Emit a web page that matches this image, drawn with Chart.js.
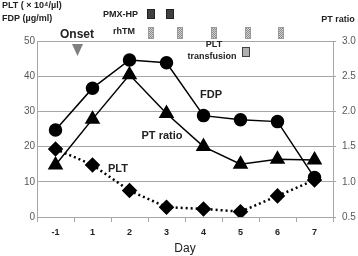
<!DOCTYPE html>
<html>
<head>
<meta charset="utf-8">
<script src="https://cdn.jsdelivr.net/npm/chart.js@4/dist/chart.umd.min.js"></script>
<style>
  html, body { margin: 0; padding: 0; background: #fff; }
  #wrap { width: 358px; height: 256px; position: relative; }
</style>
</head>
<body>
<div id="wrap"><canvas id="line-chart" width="358" height="256"></canvas></div>
<script>
var days = ['-1', '1', '2', '3', '4', '5', '6', '7'];
var fdpValues = [24.7, 36.6, 44.6, 43.8, 28.8, 27.6, 27.1, 11.2];
var pltValues = [19.3, 14.8, 7.5, 2.8, 2.3, 1.5, 6.0, 10.5];
var ptRatio = [1.24, 1.89, 2.52, 1.97, 1.50, 1.25, 1.32, 1.31];
var leftTicks = [0, 10, 20, 30, 40, 50];
var rightTicks = [0.5, 1.0, 1.5, 2.0, 2.5, 3.0];

var gridGray = '#a6a6a6';
var font = '"Liberation Sans", "DejaVu Sans", sans-serif';

// text + small boxes drawn above the plot
var notes = {
  id: 'notes',
  afterDraw: function(chart) {
    var c = chart.ctx;
    c.save();
    c.fillStyle = '#222';
    c.textBaseline = 'middle';
    c.font = 'bold 9px ' + font;
    c.textAlign = 'left';
    c.fillText('PLT ( \u00d7 10\u2074/\u00b5l)', 2, 6);
    c.fillText('FDP (\u00b5g/ml)', 2, 19);
    c.textAlign = 'right';
    c.fillText('PMX-HP', 138, 15);
    c.fillText('rhTM', 135, 32);
    c.textAlign = 'center';
    c.fillText('PT ratio', 338, 20);
    c.fillText('PLT', 214, 45);
    c.fillText('transfusion', 212, 57);

    c.font = 'bold 12px ' + font;
    c.fillText('Onset', 77, 35);
    c.font = 'bold 11px ' + font;
    c.fillText('FDP', 211, 95);
    c.fillText('PT ratio', 162, 136);
    c.fillText('PLT', 118, 169);

    // onset arrow
    c.fillStyle = '#7f7f7f';
    c.beginPath();
    c.moveTo(72, 44); c.lineTo(83, 44); c.lineTo(77.5, 56); c.closePath();
    c.fill();

    // PMX-HP boxes
    c.fillStyle = '#404040';
    c.strokeStyle = '#222';
    [147, 166].forEach(function(x) {
      c.fillRect(x, 9, 8, 10); c.strokeRect(x + 0.5, 9.5, 7, 9);
    });
    // rhTM boxes (stippled)
    [148, 177, 211, 245, 278].forEach(function(x) {
      c.fillStyle = '#d4d4d4';
      c.fillRect(x, 27, 6, 12);
      c.fillStyle = '#8a8a8a';
      for (var yy = 27; yy < 39; yy++) {
        for (var xx = x; xx < x + 6; xx++) {
          if ((xx + yy) % 2 === 0) c.fillRect(xx, yy, 1, 1);
        }
      }
      c.strokeStyle = '#9a9a9a';
      c.strokeRect(x + 0.5, 27.5, 5, 11);
    });
    // PLT transfusion box
    c.fillStyle = '#b0b0b0';
    c.strokeStyle = '#404040';
    c.fillRect(242, 47, 8, 10); c.strokeRect(242.5, 47.5, 7, 9);
    c.restore();
  }
};

new Chart(document.getElementById('line-chart'), {
  type: 'line',
  data: {
    labels: days,
    datasets: [{
      label: 'FDP',
      data: fdpValues,
      yAxisID: 'y',
      borderColor: '#000',
      backgroundColor: '#000',
      borderWidth: 1.5,
      pointStyle: 'circle',
      pointRadius: 6,
      fill: false
    }, {
      label: 'PT ratio',
      data: ptRatio,
      yAxisID: 'y1',
      borderColor: '#000',
      backgroundColor: '#000',
      borderWidth: 1.5,
      pointStyle: 'triangle',
      pointRadius: 7.5,
      fill: false
    }, {
      label: 'PLT',
      data: pltValues,
      yAxisID: 'y',
      borderColor: '#000',
      backgroundColor: '#000',
      borderWidth: 2.5,
      borderDash: [2, 3],
      pointStyle: 'rectRot',
      pointRadius: 6,
      fill: false
    }]
  },
  options: {
    responsive: false,
    animation: false,
    layout: { padding: { top: 41, left: 0, right: 0, bottom: 0 } },
    plugins: { legend: { display: false }, tooltip: { enabled: false } },
    scales: {
      x: {
        offset: true,
        afterFit: function(s) { s.height = 39; },
        grid: { offset: true, drawOnChartArea: false, tickLength: 5, color: gridGray },
        border: { color: gridGray },
        ticks: { color: '#222', font: { family: font, size: 9, weight: 'bold' }, padding: 5 },
        title: { display: true, text: 'Day', color: '#222', font: { family: font, size: 12 }, padding: { top: 0, bottom: 0 } }
      },
      y: {
        position: 'left',
        min: 0, max: 50,
        afterFit: function(s) { s.width = 37; },
        afterBuildTicks: function(s) { s.ticks = leftTicks.map(function(v) { return { value: v }; }); },
        grid: { color: gridGray, drawTicks: false },
        border: { color: gridGray },
        ticks: { color: '#595959', font: { family: font, size: 10 }, padding: 2 }
      },
      y1: {
        position: 'right',
        min: 0.5, max: 3.0,
        afterFit: function(s) { s.width = 25; },
        afterBuildTicks: function(s) { s.ticks = rightTicks.map(function(v) { return { value: v }; }); },
        grid: { drawOnChartArea: false, tickLength: 3, color: gridGray },
        border: { color: gridGray },
        ticks: { color: '#595959', font: { family: font, size: 10 }, padding: 6,
          callback: function(v) { return Number(v).toFixed(1); } }
      }
    }
  },
  plugins: [notes]
});
</script>
</body>
</html>
